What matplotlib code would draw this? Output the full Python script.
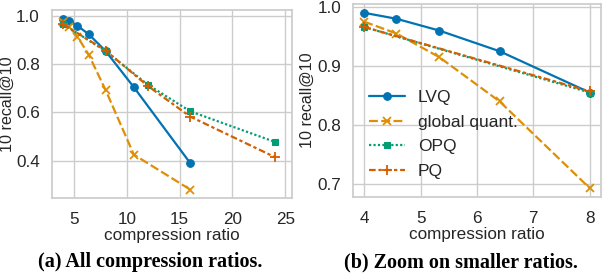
import matplotlib
matplotlib.use("Agg")
import matplotlib.pyplot as plt
import seaborn as sns

sns.set_theme(style="whitegrid")
plt.rcParams['font.family'] = ['Liberation Sans', 'DejaVu Sans']

# Data
lvq_x = [4, 4.57, 5.33, 6.4, 8, 10.67, 16]
lvq_y = [0.99, 0.98, 0.96, 0.925, 0.855, 0.705, 0.39]
gq_x = [4, 4.57, 5.33, 6.4, 8, 10.67, 16]
gq_y = [0.975, 0.955, 0.915, 0.84, 0.693, 0.425, 0.28]
opq_x = [4, 8, 12, 16, 24]
opq_y = [0.966, 0.855, 0.715, 0.605, 0.478]
pq_x = [4, 8, 12, 16, 24]
pq_y = [0.966, 0.857, 0.71, 0.583, 0.415]

series = [
    ("LVQ", lvq_x, lvq_y, "#0173b2", "o", "-", 5.5),
    ("global quant.", gq_x, gq_y, "#de8f05", "x", (0, (4, 1.5)), 5.5),
    ("OPQ", opq_x, opq_y, "#029e73", "s", (0, (1, 1)), 4.5),
    ("PQ", pq_x, pq_y, "#d55e00", "+", (0, (3, 1.25, 1.5, 1.25)), 7.5),
]

fig = plt.figure(figsize=(6.02, 2.74), dpi=100)
ax1 = fig.add_axes([51.7 / 602, 76 / 274, 240 / 602, 188 / 274])
ax2 = fig.add_axes([353 / 602, 77 / 274, 248 / 602, 193 / 274])

fs = 12.3
for ax, xmax in ((ax1, 100), (ax2, 8)):
    for name, xs, ys, c, m, ls, ms in series:
        px = [x for x in xs if x <= xmax]
        py = [y for x, y in zip(xs, ys) if x <= xmax]
        ax.plot(px, py, color=c, marker=m, linestyle=ls, linewidth=1.6,
                markersize=ms, markeredgewidth=1.3 if m in "x+" else 0.8,
                markeredgecolor=c, label=name)
    ax.set_xlabel("compression ratio", fontsize=fs, color="#262626", labelpad=1)
    ax.set_ylabel("10 recall@10", fontsize=11.6, color="#262626")
    ax.yaxis.set_label_coords(-0.154, 0.5)
    ax.tick_params(axis="x", labelsize=fs, colors="#262626", pad=4)
    ax.tick_params(axis="y", labelsize=fs, colors="#262626", pad=2.5)
    for s in ax.spines.values():
        s.set_color("#cccccc")

ax1.set_xlim(2.9, 25.6)
ax1.set_ylim(0.245, 1.0255)
ax1.set_xticks([5, 10, 15, 20, 25])
ax1.set_yticks([0.4, 0.6, 0.8, 1.0])

ax2.set_xlim(3.8, 8.2)
ax2.set_ylim(0.678, 1.005)
ax2.set_xticks([4, 5, 6, 7, 8])
ax2.set_yticks([0.7, 0.8, 0.9, 1.0])

leg = ax2.legend(loc="center left", bbox_to_anchor=(0.0, 0.324), frameon=False,
                 fontsize=fs + 0.2, handlelength=2.1, handletextpad=0.75,
                 labelspacing=0.55)

fig.text(150 / 602, 1 - 262 / 274, "(a) All compression ratios.", ha="center", va="center",
         family="Liberation Serif", fontweight="bold", fontsize=14.5, color="black")
fig.text(461 / 602, 1 - 262 / 274, "(b) Zoom on smaller ratios.", ha="center", va="center",
         family="Liberation Serif", fontweight="bold", fontsize=14.5, color="black")

fig.savefig("out.png", dpi=100)
